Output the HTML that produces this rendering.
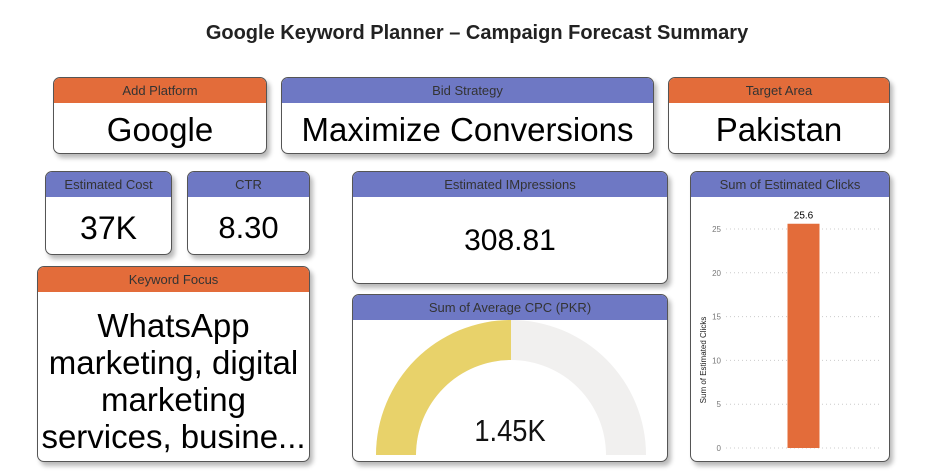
<!DOCTYPE html>
<html><head><meta charset="utf-8">
<style>
*{box-sizing:border-box;margin:0;padding:0}
body{width:944px;height:474px;background:#fff;font-family:"Liberation Sans",sans-serif;position:relative;overflow:hidden}
.card{position:absolute;background:#fff;border:1px solid #555;border-radius:7px;overflow:hidden;box-shadow:3px 4px 5px rgba(0,0,0,0.28)}
.hd{height:25px;line-height:25px;text-align:center;font-size:13px;color:#333}
.or{background:#E36C3A}.pu{background:#6E78C4}
.val{position:absolute;left:0;right:0;text-align:center;color:#000;white-space:nowrap}
#title{position:absolute;left:0;width:954px;top:22px;text-align:center;font-weight:bold;font-size:20px;color:#222}
</style></head><body>
<div id="title">Google Keyword Planner – Campaign Forecast Summary</div>

<div class="card" style="left:53px;top:77px;width:214px;height:77px">
<div class="hd or">Add Platform</div>
<div class="val" style="top:33px;font-size:33px">Google</div></div>

<div class="card" style="left:281px;top:77px;width:373px;height:77px">
<div class="hd pu">Bid Strategy</div>
<div class="val" style="top:33px;font-size:33px">Maximize Conversions</div></div>

<div class="card" style="left:668px;top:77px;width:222px;height:77px">
<div class="hd or">Target Area</div>
<div class="val" style="top:33px;font-size:33px">Pakistan</div></div>

<div class="card" style="left:45px;top:171px;width:127px;height:84px">
<div class="hd pu">Estimated Cost</div>
<div class="val" style="top:38px;font-size:32px">37K</div></div>

<div class="card" style="left:187px;top:171px;width:123px;height:84px">
<div class="hd pu">CTR</div>
<div class="val" style="top:38px;font-size:31px">8.30</div></div>

<div class="card" style="left:37px;top:266px;width:273px;height:196px">
<div class="hd or">Keyword Focus</div>
<div class="val" style="top:40px;font-size:33px;line-height:37px">WhatsApp<br>marketing, digital<br>marketing<br>services, busine...</div></div>

<div class="card" style="left:352px;top:171px;width:316px;height:113px">
<div class="hd pu">Estimated IMpressions</div>
<div class="val" style="top:52px;font-size:30px">308.81</div></div>

<div class="card" style="left:352px;top:294px;width:316px;height:168px">
<div class="hd pu">Sum of Average CPC (PKR)</div>
<svg id="gauge" width="316" height="143" style="position:absolute;left:0;top:25px"></svg>
<div class="val" style="top:118px;font-size:31px;color:#111;transform:scaleX(0.88)">1.45K</div></div>

<div class="card" style="left:690px;top:171px;width:200px;height:291px">
<div class="hd pu">Sum of Estimated Clicks</div>
<svg id="bar" width="200" height="266" style="position:absolute;left:0;top:25px"></svg></div>

<script>
const categories=["Campaign"];
const clicks=[25.6];
const yTicks=[0,5,10,15,20,25];
const cpcValue=[1450];
const cpcMax=[2900];

const NS="http://www.w3.org/2000/svg";
function mk(parent,tag,attrs){const e=document.createElementNS(NS,tag);for(const k in attrs)e.setAttribute(k,attrs[k]);parent.appendChild(e);return e;}

const bar=document.getElementById('bar');
const y0=447-196, yPer=(447-228)/25;
function yScale(v){return y0-v*yPer;}
yTicks.forEach(t=>{
  const g=mk(bar,'line',{x1:35,x2:190,y1:yScale(t),y2:yScale(t),stroke:'#ccc','stroke-dasharray':'1,3'});
  
  
  const l=mk(bar,'text',{x:30,y:yScale(t)+3,'text-anchor':'end','font-size':8,fill:'#777','font-family':'Liberation Sans'});
  l.textContent=t;
  
  
});
const bw=32, plotL=35, plotW=155;
categories.forEach((c,i)=>{
  const cx=plotL+plotW*(i+0.5)/categories.length;
  const r=mk(bar,'rect',{x:cx-bw/2,y:yScale(clicks[i]),width:bw,height:y0-yScale(clicks[i]),fill:'#E36C3A'});
  
  
  const t=mk(bar,'text',{x:cx,y:yScale(clicks[i])-5,'text-anchor':'middle','font-size':10,fill:'#000','font-family':'Liberation Sans'});
  t.textContent=clicks[i];
  
  
});
const yt=mk(bar,'text',{x:0,y:0,transform:'translate(15,'+(y0-88)+') rotate(-90)','text-anchor':'middle','font-size':8,fill:'#222','font-family':'Liberation Sans'});
yt.textContent='Sum of Estimated Clicks';



const gauge=document.getElementById('gauge');
const gcx=158, gcy=454-319, R=135, r=95;
function arc(a0,a1){
  const p=(f,rad)=>{const a=Math.PI*(1-f);return [gcx+rad*Math.cos(a),gcy-rad*Math.sin(a)];};
  const [x0,y0]=p(a0,R),[x1,y1]=p(a1,R),[x2,y2]=p(a1,r),[x3,y3]=p(a0,r);
  return `M${x0},${y0} A${R},${R} 0 0 1 ${x1},${y1} L${x2},${y2} A${r},${r} 0 0 0 ${x3},${y3} Z`;
}
const frac=cpcValue[0]/cpcMax[0];
const bg=mk(gauge,'path',{d:arc(0,1),fill:'#F1F0EF'});


const fg=mk(gauge,'path',{d:arc(0,frac),fill:'#E8D26A'});


</script>
</body></html>
